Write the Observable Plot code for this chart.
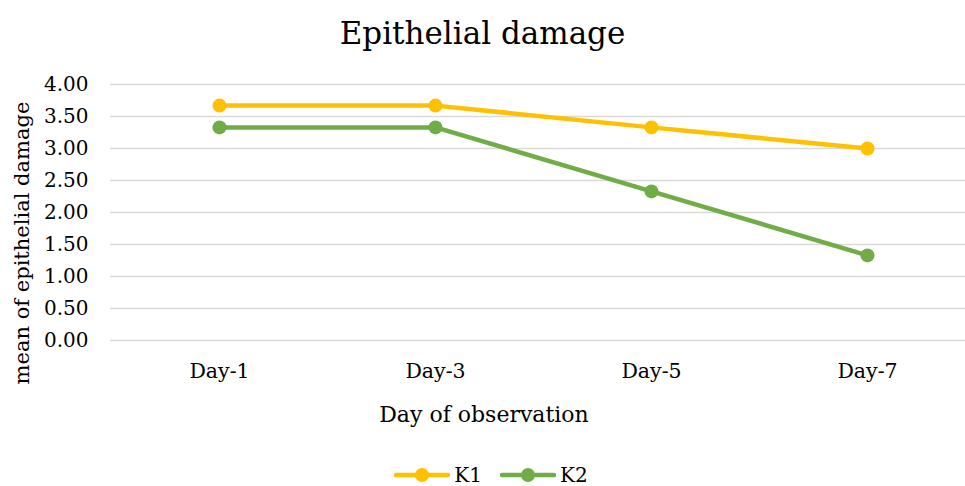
<!DOCTYPE html>
<html>
<head>
<meta charset="utf-8">
<script src="https://cdn.jsdelivr.net/npm/d3@7"></script>
<script src="https://cdn.jsdelivr.net/npm/@observablehq/plot@0.6"></script>
<style>
  html, body { margin: 0; padding: 0; background: #fff; }
  #wrap { width: 965px; height: 486px; position: relative; font-family: "DejaVu Serif", serif; color: #000; overflow: hidden; }
  #title { height: 42px; padding-top: 18px; line-height: 1; font-size: 31px; text-align: center; }
  #ylabel { position: absolute; left: 22px; top: 243px; transform: translate(-50%, -50%) rotate(-90deg); white-space: nowrap; font-size: 21px; line-height: 1; }
  #legend { position: absolute; left: 0; top: 464px; width: 965px; height: 22px; box-sizing: border-box; padding-left: 17px; display: flex; justify-content: center; align-items: center; gap: 18px; font-size: 20px; line-height: 1; }
  .item { display: flex; align-items: center; gap: 4px; }
</style>
</head>
<body>
<div id="wrap">
  <div id="title">Epithelial damage</div>
  <div id="chart"></div>
  <div id="ylabel">mean of epithelial damage</div>
  <div id="legend"></div>
</div>
<script>
const days = ["Day-1", "Day-3", "Day-5", "Day-7"];
const seriesNames = ["K1", "K2"];
const k1 = [3.67, 3.67, 3.33, 3.00];
const k2 = [3.33, 3.33, 2.33, 1.33];
const yTicks = [0, 0.5, 1, 1.5, 2, 2.5, 3, 3.5, 4];
const colors = ["#FFC000", "#70AD47"];

const data = [];
days.forEach((d, i) => data.push({day: d, value: k1[i], series: "K1"}));
days.forEach((d, i) => data.push({day: d, value: k2[i], series: "K2"}));

const chart = Plot.plot({
  width: 965,
  height: 380,
  marginLeft: 110,
  marginRight: 0,
  marginTop: 24,
  marginBottom: 100,
  style: {fontFamily: "DejaVu Serif, serif", fontSize: "20px", color: "#000", background: "#fff"},
  x: {type: "point", domain: days, range: [218, 867], padding: 0, label: null},
  y: {domain: [0, 4], label: null},
  color: {domain: seriesNames, range: colors},
  marks: [
    Plot.ruleY(yTicks, {stroke: "#d9d9d9", strokeWidth: 1.5}),
    Plot.axisY(yTicks, {tickSize: 0, tickPadding: 22, tickFormat: d3.format(".2f"), fontSize: 20, label: null}),
    Plot.axisX(days, {tickSize: 0, tickPadding: 23, fontSize: 20.5, label: null}),
    Plot.line(data, {x: "day", y: "value", z: "series", stroke: "series", strokeWidth: 4.5, strokeLinecap: "round", strokeLinejoin: "round"}),
    Plot.dot(data, {x: "day", y: "value", fill: "series", r: 7}),
    Plot.text(["Day of observation"], {frameAnchor: "bottom", dx: -54, dy: 74, lineAnchor: "middle", fontSize: 22})
  ]
});
document.getElementById("chart").appendChild(chart);

const legend = document.getElementById("legend");
seriesNames.forEach((name, i) => {
  const item = document.createElement("div");
  item.className = "item";
  item.innerHTML = `<svg width="56" height="16"><line x1="2" y1="8" x2="54" y2="8" stroke="${colors[i]}" stroke-width="4.5" stroke-linecap="round"/><circle cx="28" cy="8" r="7" fill="${colors[i]}"/></svg><span>${name}</span>`;
  legend.appendChild(item);
});
</script>
</body>
</html>
